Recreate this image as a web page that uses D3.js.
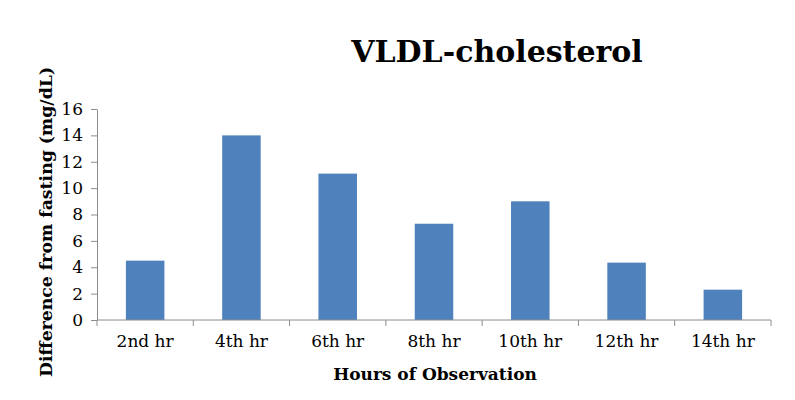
<!DOCTYPE html>
<html>
<head>
<meta charset="utf-8">
<script src="https://cdn.jsdelivr.net/npm/d3@7"></script>
<style>
  body { margin: 0; background: #fff; }
  svg text { font-family: "DejaVu Serif", serif; fill: #000; }
  .axis path, .axis line { stroke: #8c8c8c; }
</style>
</head>
<body>
<svg id="chart"></svg>
<script>
const hours = ['2nd hr', '4th hr', '6th hr', '8th hr', '10th hr', '12th hr', '14th hr'];
const diffs = [4.5, 14.0, 11.1, 7.3, 9.0, 4.35, 2.3];
const yTicks = [0, 2, 4, 6, 8, 10, 12, 14, 16];

const width = 795, height = 400;
const margin = { top: 109, right: 24, bottom: 80, left: 97 };

const svg = d3.select('#chart')
    .attr('width', width)
    .attr('height', height);

const x = d3.scaleBand()
    .domain(hours)
    .range([margin.left, width - margin.right])
    .padding(0);

const y = d3.scaleLinear()
    .domain([0, 16])
    .range([height - margin.bottom, margin.top]);

const barW = x.bandwidth() * 0.4;

svg.append('g')
    .selectAll('rect')
    .data(diffs)
    .enter()
    .append('rect')
    .attr('x', (d, i) => x(hours[i]) + (x.bandwidth() - barW) / 2)
    .attr('y', d => y(d))
    .attr('width', barW)
    .attr('height', d => y(0) - y(d))
    .style('fill', '#4f81bd');

const yAxis = svg.append('g')
    .attr('class', 'axis')
    .attr('transform', `translate(${margin.left},0)`)
    .call(d3.axisLeft(y).tickValues(yTicks).tickSize(6).tickSizeOuter(0).tickPadding(8));
yAxis.selectAll('text').style('font-size', '17px').style('font-family', '"DejaVu Serif", serif');

// category axis with ticks at band edges
const xAxis = svg.append('g')
    .attr('class', 'axis')
    .attr('transform', `translate(0,${y(0)})`);
xAxis.append('line')
    .attr('x1', margin.left).attr('x2', width - margin.right)
    .attr('y1', 0).attr('y2', 0);
xAxis.selectAll('.edge')
    .data(hours.concat(['end']))
    .enter()
    .append('line')
    .attr('class', 'edge')
    .attr('x1', (d, i) => i < hours.length ? x(d) : x(hours[hours.length - 1]) + x.bandwidth())
    .attr('x2', (d, i) => i < hours.length ? x(d) : x(hours[hours.length - 1]) + x.bandwidth())
    .attr('y1', 0).attr('y2', 6);
xAxis.selectAll('.lab')
    .data(hours)
    .enter()
    .append('text')
    .attr('class', 'lab')
    .attr('x', d => x(d) + x.bandwidth() / 2)
    .attr('y', 27)
    .attr('text-anchor', 'middle')
    .style('font-size', '17px')
    .text(d => d);

svg.append('text')
    .attr('x', 497)
    .attr('y', 62)
    .attr('text-anchor', 'middle')
    .style('font-size', '30px')
    .style('font-weight', 'bold')
    .text('VLDL-cholesterol');

svg.append('text')
    .attr('x', 435)
    .attr('y', 380)
    .attr('text-anchor', 'middle')
    .style('font-size', '17px')
    .style('font-weight', 'bold')
    .text('Hours of Observation');

svg.append('text')
    .attr('transform', 'translate(52,222) rotate(-90)')
    .attr('text-anchor', 'middle')
    .style('font-size', '17.3px')
    .style('font-weight', 'bold')
    .text('Difference from fasting (mg/dL)');
</script>
</body>
</html>
